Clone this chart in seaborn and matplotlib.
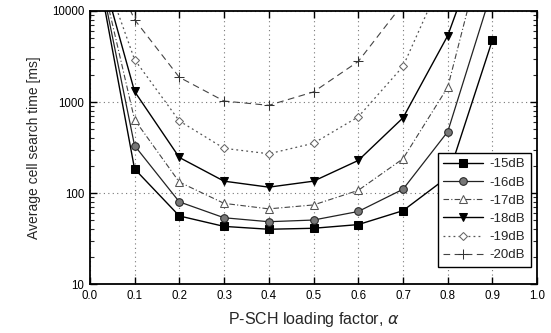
import numpy as np
import pandas as pd
import matplotlib
matplotlib.use("Agg")
import matplotlib.pyplot as plt
import seaborn as sns
from matplotlib.ticker import FixedLocator, LogLocator, NullFormatter

# ---- data ----
alpha = [0.0, 0.1, 0.2, 0.3, 0.4, 0.5, 0.6, 0.7, 0.8, 0.9]
snr_labels = ["-15dB", "-16dB", "-17dB", "-18dB", "-19dB", "-20dB"]
t_m15 = [82000, 184, 56, 43, 40, 41, 45, 64, 150, 4830]
t_m16 = [87000, 332, 80, 53.5, 48.4, 50.5, 62.7, 110, 472, 17600]
t_m17 = [85000, 640, 132, 77, 67, 74, 107, 238, 1455, 120000]
t_m18 = [78000, 1306, 246, 135, 116, 135, 228, 670, 5360, 120000]
t_m19 = [71000, 2930, 620, 310, 270, 352, 687, 2460, 31000, np.nan]
t_m20 = [100000, 8040, 1870, 1025, 920, 1290, 2790, 12000, np.nan, np.nan]
series = [t_m15, t_m16, t_m17, t_m18, t_m19, t_m20]

xticks = [0.0, 0.1, 0.2, 0.3, 0.4, 0.5, 0.6, 0.7, 0.8, 0.9, 1.0]
yticks = [10, 100, 1000, 10000]
ytick_labels = ["10", "100", "1000", "10000"]

# ---- styling ----
sns.set_theme(style="ticks")
plt.rcParams["font.family"] = ["Liberation Sans", "DejaVu Sans"]
plt.rcParams["mathtext.fontset"] = "dejavusans"

styles = [
    dict(marker="s", linestyle="-", color="black", markerfacecolor="black",
         markeredgecolor="black", markersize=5.5, linewidth=1.0),
    dict(marker="o", linestyle="-", color="#222222", markerfacecolor="#777777",
         markeredgecolor="#222222", markersize=5.5, linewidth=0.9),
    dict(marker="^", linestyle=(0, (5, 2, 1, 2)), color="#444444", markerfacecolor="white",
         markeredgecolor="#555555", markersize=5.5, linewidth=0.8),
    dict(marker="v", linestyle="-", color="black", markerfacecolor="black",
         markeredgecolor="black", markersize=6, linewidth=1.0),
    dict(marker="D", linestyle=(0, (1.5, 2.5)), color="#555555", markerfacecolor="white",
         markeredgecolor="#666666", markersize=4.5, linewidth=0.9),
    dict(marker="+", linestyle=(0, (6, 4)), color="#444444", markerfacecolor="none",
         markeredgecolor="#333333", markersize=7, linewidth=0.8),
]

fig = plt.figure(figsize=(5.51, 3.33), dpi=100)
ax = fig.add_axes([0.163, 0.147, 0.812, 0.820])

for lab, vals, st in zip(snr_labels, series, styles):
    df = pd.DataFrame({"alpha": alpha, "t": vals})
    sns.lineplot(data=df, x="alpha", y="t", ax=ax, label=lab, **st)

ax.set_yscale("log")
ax.set_xlim(0.0, 1.0)
ax.set_ylim(10, 10000)
ax.xaxis.set_major_locator(FixedLocator(xticks))
ax.set_xticklabels([f"{v:.1f}" for v in xticks])
ax.yaxis.set_major_locator(FixedLocator(yticks))
ax.set_yticklabels(ytick_labels)
ax.yaxis.set_minor_locator(LogLocator(base=10, subs=np.arange(2, 10)))
ax.yaxis.set_minor_formatter(NullFormatter())

ax.grid(True, which="major", linestyle=(0, (1, 3)), color="#777777", linewidth=0.8)
ax.tick_params(axis="both", which="major", direction="in", length=5, width=1,
               top=True, right=True, labelsize=8.3, colors="black", pad=4)
ax.tick_params(axis="y", which="minor", direction="in", length=3, width=0.8,
               left=True, right=True)
for sp in ax.spines.values():
    sp.set_visible(True)
    sp.set_color("black")
    sp.set_linewidth(1.3)

ax.set_xlabel(r"P-SCH loading factor, $\alpha$", fontsize=11.5, labelpad=6)
ax.set_ylabel("Average cell search time [ms]", fontsize=10, labelpad=8)

leg = ax.legend(loc="upper right", bbox_to_anchor=(0.985, 0.48), fontsize=9.5,
                frameon=True, fancybox=False, framealpha=1, edgecolor="black",
                handlelength=3.0, labelspacing=0.45, borderpad=0.4,
                handletextpad=0.5, borderaxespad=0)
leg.get_frame().set_linewidth(1.0)
leg.set_zorder(10)

fig.savefig("out.png", dpi=100)
